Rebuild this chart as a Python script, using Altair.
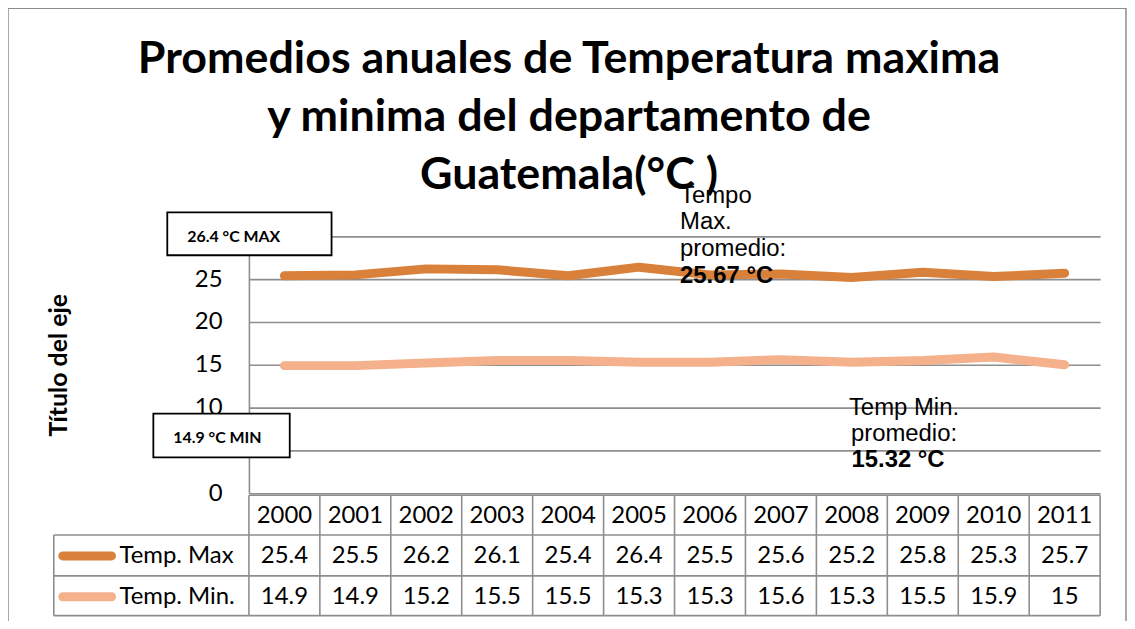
import altair as alt
import pandas as pd

# ---------------- data ----------------
years = [str(y) for y in range(2000, 2012)]
temp_max = [25.4, 25.5, 26.2, 26.1, 25.4, 26.4, 25.5, 25.6, 25.2, 25.8, 25.3, 25.7]
temp_min = [14.9, 14.9, 15.2, 15.5, 15.5, 15.3, 15.3, 15.6, 15.3, 15.5, 15.9, 15.0]
series_names = ["Temp. Max", "Temp. Min."]
series_colors = ["#D9803A", "#F5B08C"]
y_ticks = [0, 5, 10, 15, 20, 25, 30]
title_lines = ["Promedios anuales de Temperatura maxima",
               "y minima del departamento de",
               "Guatemala(°C )"]
y_title = "Título del eje"
box_max_text = "26.4 °C MAX"
box_min_text = "14.9 °C MIN"
note_max_lines = "Tempo\nMax.\npromedio:"
note_max_value = "25.67 °C"
note_min_lines = "Temp Min.\npromedio:"
note_min_value = "15.32 °C"

# ---------------- tables built from the arrays ----------------
rows = []
for name, vals in zip(series_names, [temp_max, temp_min]):
    for yr, v in zip(years, vals):
        rows.append({"year": yr, "series": name, "value": v, "label": f"{v:g}"})
long_df = pd.DataFrame(rows)
years_df = pd.DataFrame({"year": years})
last_year_df = pd.DataFrame({"year": [years[-1]]})
series_df = pd.DataFrame({"series": series_names})

W, H = 855, 258
GRID = "#8E8E8E"
CAL = "Lato"
ARIAL = "Liberation Sans"
TFS = 24  # table / tick font size
NFS = 24  # note font size

xs = alt.Scale(type="band", domain=years, paddingInner=0, paddingOuter=0)
cs = alt.Scale(domain=series_names, range=series_colors)

# row positions of the data table (layout, in px below plot top)
ROW_Y = {"year": 280.5, "Temp. Max": 321, "Temp. Min.": 362}
TABLE_TOP, ROW1, ROW2, TABLE_BOTTOM = 260, 300, 341, 381
LEG_LEFT = -196

# outer chart frame (no fill so the axes behind stay visible)
frame = alt.Chart(pd.DataFrame({"k": [0]})).mark_rect(
    fill=None, filled=False, stroke="#8C8C8C", strokeWidth=1.5
).encode(x=alt.value(-242), x2=alt.value(881), y=alt.value(-229), y2=alt.value(420))

lines = alt.Chart(long_df).mark_line(
    strokeWidth=9, strokeCap="round", strokeJoin="round"
).encode(
    x=alt.X("year:O", scale=xs, axis=None),
    y=alt.Y("value:Q",
            scale=alt.Scale(domain=[0, 30], nice=False, zero=True),
            axis=alt.Axis(values=y_ticks, title=y_title, grid=True,
                          gridColor=GRID, gridWidth=1.6,
                          domainColor=GRID, domainWidth=1.6,
                          ticks=False, tickSize=0, labelPadding=27,
                          labelFont=CAL, labelFontSize=TFS, labelColor="black",
                          titleFont=CAL, titleFontSize=25, titleFontWeight="bold",
                          titleColor="black", titleAngle=270, titleX=-191, titleY=129,
                          titleAlign="center", titleBaseline="middle")),
    color=alt.Color("series:N", scale=cs, legend=None),
    detail="series:N",
)

# table: horizontal rules
hrules = alt.Chart(pd.DataFrame({
    "x0": [0, LEG_LEFT, LEG_LEFT, LEG_LEFT],
    "yy": [TABLE_TOP, ROW1, ROW2, TABLE_BOTTOM]})).mark_rule(
    color=GRID, strokeWidth=1.6
).encode(x=alt.X("x0:Q", scale=None), x2=alt.value(W), y=alt.Y("yy:Q", scale=None))

# table: vertical rules at year-band edges
vrules = alt.Chart(years_df).mark_rule(color=GRID, strokeWidth=1.6).encode(
    x=alt.X("year:O", scale=xs, bandPosition=0, axis=None),
    y=alt.value(TABLE_TOP), y2=alt.value(TABLE_BOTTOM))
vrule_end = alt.Chart(last_year_df).mark_rule(color=GRID, strokeWidth=1.6).encode(
    x=alt.X("year:O", scale=xs, bandPosition=1, axis=None),
    y=alt.value(TABLE_TOP), y2=alt.value(TABLE_BOTTOM))
vrule_leg = alt.Chart(pd.DataFrame({"k": [0]})).mark_rule(color=GRID, strokeWidth=1.6).encode(
    x=alt.value(LEG_LEFT), y=alt.value(ROW1), y2=alt.value(TABLE_BOTTOM))

# table: year header
year_text = alt.Chart(years_df).mark_text(
    font=CAL, fontSize=TFS, color="black", align="center", baseline="middle"
).encode(x=alt.X("year:O", scale=xs, axis=None), y=alt.value(ROW_Y["year"]), text="year:N")

# table: values
val_max = alt.Chart(long_df[long_df.series == series_names[0]]).mark_text(
    font=CAL, fontSize=TFS, color="black", align="center", baseline="middle"
).encode(x=alt.X("year:O", scale=xs, axis=None), y=alt.value(ROW_Y["Temp. Max"]), text="label:N")
val_min = alt.Chart(long_df[long_df.series == series_names[1]]).mark_text(
    font=CAL, fontSize=TFS, color="black", align="center", baseline="middle"
).encode(x=alt.X("year:O", scale=xs, axis=None), y=alt.value(ROW_Y["Temp. Min."]), text="label:N")

# table: legend keys
key_max = alt.Chart(series_df[series_df.series == series_names[0]]).mark_rule(
    strokeWidth=9, strokeCap="round").encode(
    x=alt.value(-187), x2=alt.value(-138), y=alt.value(ROW_Y["Temp. Max"]),
    color=alt.Color("series:N", scale=cs, legend=None))
key_min = alt.Chart(series_df[series_df.series == series_names[1]]).mark_rule(
    strokeWidth=9, strokeCap="round").encode(
    x=alt.value(-187), x2=alt.value(-138), y=alt.value(ROW_Y["Temp. Min."]),
    color=alt.Color("series:N", scale=cs, legend=None))
key_txt_max = alt.Chart(series_df[series_df.series == series_names[0]]).mark_text(
    font=CAL, fontSize=TFS, color="black", align="left", baseline="middle").encode(
    x=alt.value(-130), y=alt.value(ROW_Y["Temp. Max"]), text="series:N")
key_txt_min = alt.Chart(series_df[series_df.series == series_names[1]]).mark_text(
    font=CAL, fontSize=TFS, color="black", align="left", baseline="middle").encode(
    x=alt.value(-130), y=alt.value(ROW_Y["Temp. Min."]), text="series:N")

# labelled boxes
box_max = alt.Chart(pd.DataFrame({"t": [box_max_text]})).mark_rect(
    fill="white", stroke="black", strokeWidth=1.8).encode(
    x=alt.value(-82), x2=alt.value(83), y=alt.value(-24), y2=alt.value(19))
box_max_t = alt.Chart(pd.DataFrame({"t": [box_max_text]})).mark_text(
    font=CAL, fontSize=16, fontWeight="bold", color="black", align="left",
    baseline="alphabetic").encode(x=alt.value(-62), y=alt.value(6), text="t:N")
box_min = alt.Chart(pd.DataFrame({"t": [box_min_text]})).mark_rect(
    fill="white", stroke="black", strokeWidth=1.8).encode(
    x=alt.value(-96), x2=alt.value(41), y=alt.value(178), y2=alt.value(222))
box_min_t = alt.Chart(pd.DataFrame({"t": [box_min_text]})).mark_text(
    font=CAL, fontSize=16, fontWeight="bold", color="black", align="left",
    baseline="alphabetic").encode(x=alt.value(-76), y=alt.value(208), text="t:N")

# average notes
note_max = alt.Chart(pd.DataFrame({"t": [note_max_lines]})).mark_text(
    font=ARIAL, fontSize=NFS, color="black", align="left", baseline="alphabetic",
    lineBreak="\n", lineHeight=27).encode(x=alt.value(433), y=alt.value(-34), text="t:N")
note_max_v = alt.Chart(pd.DataFrame({"t": [note_max_value]})).mark_text(
    font=ARIAL, fontSize=NFS, fontWeight="bold", color="black", align="left",
    baseline="alphabetic").encode(x=alt.value(433), y=alt.value(47), text="t:N")
note_min = alt.Chart(pd.DataFrame({"t": [note_min_lines]})).mark_text(
    font=ARIAL, fontSize=NFS, color="black", align="center", baseline="alphabetic",
    lineBreak="\n", lineHeight=27).encode(x=alt.value(658), y=alt.value(179), text="t:N")
note_min_v = alt.Chart(pd.DataFrame({"t": [note_min_value]})).mark_text(
    font=ARIAL, fontSize=NFS, fontWeight="bold", color="black", align="center",
    baseline="alphabetic").encode(x=alt.value(652), y=alt.value(232), text="t:N")

chart = alt.layer(
    frame, lines, hrules, vrules, vrule_end, vrule_leg, year_text, val_max, val_min,
    key_max, key_min, key_txt_max, key_txt_min,
    box_max, box_max_t, box_min, box_min_t,
    note_max, note_max_v, note_min, note_min_v,
).properties(
    width=W, height=H,
    title=alt.TitleParams(text=title_lines, font=CAL, fontSize=45, fontWeight="bold",
                          color="black", anchor="middle", dx=-106, offset=-191,
                          lineHeight=58),
    autosize=alt.AutoSizeParams(type="none"),
    padding={"left": 242, "top": 228, "right": 27, "bottom": 127},
    background="white",
).configure_view(stroke=None)

chart.save("out.html", embed_options={"renderer": "svg", "actions": False})
